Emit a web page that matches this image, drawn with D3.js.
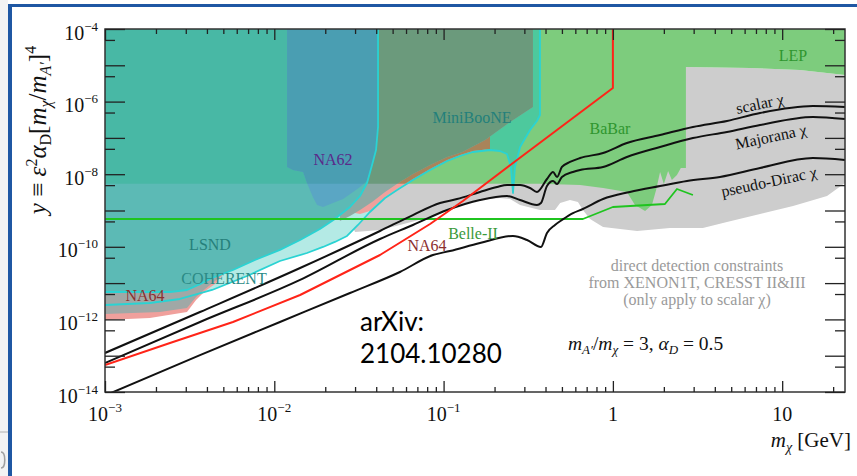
<!DOCTYPE html>
<html>
<head>
<meta charset="utf-8">
<script src="https://cdn.jsdelivr.net/npm/d3@7"></script>
<style>
html, body { margin: 0; padding: 0; background: #ffffff; }
svg { display: block; }
</style>
</head>
<body>
<svg id="chart" width="857" height="476"></svg>
<script>
// ---- thermal-relic targets, m_chi [GeV] vs y ----
const scalarChi = [[1.0e-3,1.19e-13],[3.64e-3,1.6e-12],[1.42e-2,2.6e-11],[4.21e-2,2.72e-10],[6.59e-2,7.5e-10],
  [9.53e-2,1.61e-9],[0.120,2.07e-9],[0.164,3.24e-9],[0.207,4.44e-9],[0.237,5.04e-9],[0.283,5.04e-9],[0.324,4.17e-9],
  [0.356,3.24e-9],[0.408,7.38e-9],[0.443,1.15e-8],[0.468,8.4e-9],[0.500,1.58e-8],[0.558,2.17e-8],[0.640,2.79e-8],
  [0.875,3.84e-8],[1.21,7.24e-8],[1.90,1.2e-7],[2.97,2.0e-7],[4.72,2.92e-7],[7.40,4.85e-7],[15.2,7.57e-7],[23.5,7.1e-7]];
const majoranaChi = [[1.0e-3,6.3e-14],[3.64e-3,8.5e-13],[1.42e-2,1.22e-11],[4.21e-2,1.64e-10],[6.59e-2,3.99e-10],
  [0.105,1.03e-9],[0.164,1.95e-9],[0.237,2.51e-9],[0.283,1.95e-9],[0.356,1.42e-9],[0.376,1.61e-9],[0.408,4.73e-9],
  [0.443,6.5e-9],[0.468,5.37e-9],[0.500,8.4e-9],[0.581,1.15e-8],[0.640,1.31e-8],[0.875,1.58e-8],[1.21,2.98e-8],
  [1.90,5.61e-8],[2.97,9.9e-8],[4.72,1.46e-7],[7.40,2.26e-7],[15.2,3.77e-7],[23.5,3.32e-7]];
const pseudoDiracChi = [[1.0e-3,8.0e-15],[3.64e-3,1.04e-13],[1.08e-2,8.5e-13],[2.80e-2,5.33e-12],[5.52e-2,2.02e-11],
  [8.65e-2,5.94e-11],[0.109,7.66e-11],[0.164,1.27e-10],[0.257,1.99e-10],[0.311,1.54e-10],[0.376,9.9e-11],[0.408,2.4e-10],
  [0.455,3.99e-10],[0.500,5.47e-10],[0.581,8.5e-10],[0.665,1.1e-9],[0.875,2.07e-9],[1.26,3.24e-9],[1.90,4.73e-9],
  [2.74,6.5e-9],[4.29,8.4e-9],[7.40,1.48e-8],[15.2,2.79e-8],[23.5,2.46e-8]];

// ---- projected sensitivities ----
const na64Projection = [[1.0e-3,5.55e-14],[2.42e-3,2.24e-13],[5.70e-3,8.5e-13],[1.42e-2,4.7e-12],[4.21e-2,5.94e-11],
  [8.32e-2,4.25e-10],[0.130,1.83e-9],[0.257,2.04e-8],[1.0,2.37e-6],[1.0,1e-4]];
const belle2Projection = [[1e-3,5.83e-10],[0.665,5.83e-10],[1.0,1.25e-9],[2.03,1.51e-9],[2.39,3.91e-9],[2.97,2.67e-9]];

// ---- existing constraints (region boundaries) ----
const lsndEdge = [[4.10e-2,1e-4],[4.10e-2,2.0e-7],[3.99e-2,4.64e-8],[3.78e-2,1.79e-8],[3.53e-2,5.73e-9],[3.21e-2,2.51e-9],
  [2.80e-2,1.25e-9],[2.28e-2,5.83e-10],[1.86e-2,3.09e-10],[1.42e-2,1.54e-10],[1.08e-2,8.2e-11],[7.69e-3,4.33e-11],
  [5.70e-3,2.3e-11],[4.29e-3,1.38e-11],[3.64e-3,9.4e-12],[3.05e-3,6.46e-12],[2.42e-3,5.69e-12],[1e-3,5.69e-12]];
const coherentEdge = [[0.371,1e-4],[0.371,4.28e-7],[0.356,2.92e-7],[0.324,1.65e-7],[0.283,5.61e-8],[0.264,1.58e-8],
  [0.257,3.03e-9],[0.250,1.58e-8],[0.237,3.6e-8],[0.215,4.36e-8],[0.188,4.64e-8],[0.149,4.09e-8],[0.125,3.17e-8],
  [0.105,2.31e-8],[8.32e-2,1.31e-8],[6.59e-2,6.9e-9],[5.31e-2,3.67e-9],[4.51e-2,2.21e-9],[3.67e-2,9.1e-10],
  [3.12e-2,3.99e-10],[2.69e-2,1.99e-10],[2.28e-2,1.36e-10],[1.94e-2,9.9e-11],[1.56e-2,6.75e-11],[1.08e-2,4.06e-11],
  [6.90e-3,1.57e-11],[4.29e-3,6.46e-12],[2.77e-3,3.65e-12],[1.84e-3,2.83e-12],[1e-3,2.49e-12]];
const na64Region = [[1e-3,9.6e-13],[1.84e-3,1.09e-12],[3.05e-3,1.6e-12],[3.45e-3,3.42e-12],[3.90e-3,6.05e-12],
  [4.47e-3,9.4e-12],[5.12e-3,2.02e-11],[7.18e-3,4.91e-11],[1.08e-2,1.05e-10],[1.86e-2,3.74e-10],[2.62e-2,9.7e-10],
  [3.21e-2,8.0e-10],[3.67e-2,9.7e-10],[4.51e-2,2.35e-9],[5.31e-2,3.91e-9],[6.59e-2,7.38e-9],[8.32e-2,1.39e-8],
  [0.105,2.46e-8],[0.125,3.38e-8],[0.149,4.36e-8],[0.188,4.94e-8],[0.188,3.1e-7],[1e-3,3.1e-7]];
const na64Core = [[1e-3,1.41e-12],[2.11e-3,1.6e-12],[3.05e-3,2.06e-12],[3.45e-3,4.14e-12],[3.90e-3,6.87e-12],
  [4.47e-3,1.14e-11],[5.12e-3,2.02e-11],[5.12e-3,1.95e-9],[1e-3,1.95e-9]];
const miniBooNERegion = [[2.44e-2,1e-4],[0.337,1e-4],[0.337,7.1e-7],[0.247,2.74e-7],[0.176,8.75e-8],[0.129,4.09e-8],
  [0.105,2.98e-8],[8.32e-2,1.79e-8],[6.59e-2,1.01e-8],[5.52e-2,6.1e-9],[4.51e-2,3.24e-9],[3.78e-2,1.71e-9],
  [3.21e-2,1.03e-9],[2.80e-2,7.05e-10],[2.44e-2,5.14e-10]];
const na62Region = [[1.19e-2,1e-4],[4.10e-2,1e-4],[4.10e-2,2.0e-7],[3.99e-2,4.64e-8],[3.78e-2,1.79e-8],[3.53e-2,6.5e-9],
  [3.21e-2,4.44e-9],[2.92e-2,3.24e-9],[2.55e-2,2.07e-9],[2.22e-2,1.61e-9],[1.94e-2,1.25e-9],[1.79e-2,1.42e-9],
  [1.69e-2,2.35e-9],[1.56e-2,5.73e-9],[1.48e-2,1.15e-8],[1.29e-2,1.31e-8],[1.19e-2,1.58e-8]];
const directDetection = [[2.44e-2,9.0e-6],[2.70,9.0e-6],[6.46,8.4e-6],[12.7,7.4e-6],[23.5,5.4e-6],[23.5,5.73e-9],
  [18.4,2.51e-9],[11.6,1.33e-9],[7.40,8.0e-10],[4.72,4.82e-10],[3.40,3.3e-10],[2.17,3.3e-10],[1.39,2.72e-10],
  [0.875,3.51e-10],[0.733,5.83e-10],[0.665,1.03e-9],[0.622,1.71e-9],[0.558,1.95e-9],[0.488,1.61e-9],[0.455,1.03e-9],
  [0.371,1.03e-9],[0.283,1.42e-9],[0.247,2.07e-9],[0.215,2.21e-9],[0.164,1.95e-9],[0.130,1.42e-9],[8.32e-2,6.6e-10],
  [5.52e-2,3.99e-10],[4.21e-2,2.9e-10],[3.00e-2,2.56e-10],[2.44e-2,1.95e-9]];
const babarLep = [[1e-3,1e-4],[23.5,1e-4],[23.5,5.4e-6],[12.7,7.4e-6],[6.46,8.4e-6],[2.70,9.0e-6],[2.70,1.48e-8],
  [2.52,1.48e-8],[2.39,9.5e-9],[2.23,6.9e-9],[2.12,1.23e-8],[2.00,5.37e-9],[1.90,1.15e-8],[1.80,3.67e-9],
  [1.70,1.42e-9],[1.55,9.7e-10],[1.35,1.42e-9],[1.21,3.24e-9],[0.875,4.17e-9],[0.640,5.04e-9],[0.371,5.5e-9],[1e-3,5.5e-9]];

// ---- axis ticks ----
const xMajorTicks = [1e-3, 1e-2, 1e-1, 1, 10];
const xTickBase = ["10", "10", "10", "1", "10"];
const xTickExp = ["−3", "−2", "−1", "", ""];
const yMajorTicks = [1e-4,1e-5,1e-6,1e-7,1e-8,1e-9,1e-10,1e-11,1e-12,1e-13,1e-14];
const yHalfTicks = [5e-5,5e-6,5e-7,5e-8,5e-9,5e-10,5e-11,5e-12,5e-13,5e-14];
const yLabelTicks = [1e-4, 1e-6, 1e-8, 1e-10, 1e-12, 1e-14];
const yTickExp = ["−4", "−6", "−8", "−10", "−12", "−14"];

const SERIF = "'Liberation Serif', 'DejaVu Serif', serif";
const SANS = "Lato, 'Open Sans', sans-serif";

const svg = d3.select("#chart");
const x = d3.scaleLog().domain([1e-3, 23.5]).range([105, 845]);
const y = d3.scaleLog().domain([1e-14, 1e-4]).range([392, 29]);
const line = d3.line().x(d => x(d[0])).y(d => y(d[1]));
const smooth = d3.line().x(d => x(d[0])).y(d => y(d[1])).curve(d3.curveMonotoneX);
const area = pts => line(pts) + "Z";

function label(parent, px, py, size) {
  return parent.append("text").attr("x", px).attr("y", py).style("font-family", SERIF).attr("font-size", size);
}

// slide frame
svg.append("rect").attr("x", 0).attr("y", 0).attr("width", 8).attr("height", 476).attr("fill", "#f3f3f3");
svg.append("line").attr("x1", 0).attr("x2", 8).attr("y1", 432).attr("y2", 432).attr("stroke", "#b0b0b0");
svg.append("path").attr("d", "M1,452 C6,452 6,468 1,468").attr("fill", "none").attr("stroke", "#a0a0a0").attr("stroke-width", 1.6);
svg.append("rect").attr("x", 8).attr("y", 4).attr("width", 849).attr("height", 3).attr("fill", "#1f57a3");
svg.append("rect").attr("x", 8).attr("y", 4).attr("width", 4).attr("height", 472).attr("fill", "#1f57a3");

const plotLeft = x(1e-3), plotRight = x(23.5), plotTop = y(1e-4), plotBottom = y(1e-14);

const defs = svg.append("defs");
defs.append("clipPath").attr("id", "plotClip").append("rect")
  .attr("x", plotLeft).attr("y", plotTop).attr("width", plotRight - plotLeft).attr("height", plotBottom - plotTop);
defs.append("clipPath").attr("id", "babarClip").append("path").attr("d", area(babarLep));

const plot = svg.append("g").attr("clip-path", "url(#plotClip)");
plot.append("path").attr("d", area(directDetection)).attr("fill", "#cdcdcd");
plot.append("path").attr("d", area(babarLep)).attr("fill", "#7dcc7d");

// each region shown with its own tint, darker where it overlaps BaBar/LEP
const regions = [
  { pts: [[1e-3, 1e-4]].concat(coherentEdge), below: "#b4eae5", above: "#4dc99d" },
  { pts: na64Region, below: "#f0a09c", above: "#a9845a" },
  { pts: na64Core, below: "#a0a8a6", above: "#a0a8a6" },
  { pts: miniBooNERegion, below: "#8eaaa4", above: "#6b9a7c" },
  { pts: [[1e-3, 1e-4]].concat(lsndEdge), below: "#5cbab5", above: "#48b8a5" },
  { pts: na62Region, below: "#5aa6c4", above: "#4a9eb2" }
];
regions.forEach(r => {
  plot.append("path").attr("d", area(r.pts)).attr("fill", r.below);
  plot.append("g").attr("clip-path", "url(#babarClip)")
    .append("path").attr("d", area(r.pts)).attr("fill", r.above);
});

const stroke = (d, color, w) => plot.append("path").attr("d", d).attr("fill", "none")
  .attr("stroke", color).attr("stroke-width", w).attr("stroke-linejoin", "round");
stroke(line(lsndEdge), "#2ad3d3", 1.8);
stroke(line(coherentEdge), "#2ad3d3", 1.8);
stroke(line(belle2Projection), "#1fc41f", 1.8);
stroke(smooth(scalarChi), "#111", 2);
stroke(smooth(majoranaChi), "#111", 2);
stroke(smooth(pseudoDiracChi), "#111", 2);
stroke(line(na64Projection), "#ff2418", 2);

// frame and ticks
svg.append("rect").attr("x", plotLeft).attr("y", plotTop).attr("width", plotRight - plotLeft)
  .attr("height", plotBottom - plotTop).attr("fill", "none").attr("stroke", "#333").attr("stroke-width", 1.5);

const xMinor = [];
[1e-3, 1e-2, 1e-1, 1, 10].forEach(b => d3.range(2, 10).forEach(k => { if (k * b < 23.5) xMinor.push(k * b); }));

function ticks(axis, tx, ty) {
  const g = svg.append("g").attr("transform", `translate(${tx},${ty})`).call(axis);
  g.select(".domain").remove();
  g.selectAll("line").attr("stroke", "#222").attr("stroke-width", 1.3);
  g.selectAll("text").remove();
}
ticks(d3.axisBottom(x).tickValues(xMajorTicks).tickSize(-11).tickFormat(""), 0, plotBottom);
ticks(d3.axisBottom(x).tickValues(xMinor).tickSize(-5).tickFormat(""), 0, plotBottom);
ticks(d3.axisTop(x).tickValues(xMajorTicks).tickSize(-11).tickFormat(""), 0, plotTop);
ticks(d3.axisTop(x).tickValues(xMinor).tickSize(-5).tickFormat(""), 0, plotTop);
ticks(d3.axisLeft(y).tickValues(yMajorTicks).tickSize(-20).tickFormat(""), plotLeft, 0);
ticks(d3.axisLeft(y).tickValues(yHalfTicks).tickSize(-10).tickFormat(""), plotLeft, 0);
ticks(d3.axisRight(y).tickValues(yMajorTicks).tickSize(-20).tickFormat(""), plotRight, 0);
ticks(d3.axisRight(y).tickValues(yHalfTicks).tickSize(-10).tickFormat(""), plotRight, 0);

// tick labels
yLabelTicks.forEach((v, i) => {
  const t = label(svg, 98, y(v) + 10.5, 20).attr("text-anchor", "end").attr("fill", "#111");
  t.append("tspan").text("10");
  t.append("tspan").attr("dy", -9).attr("font-size", 13).text(yTickExp[i]);
});
xMajorTicks.forEach((v, i) => {
  const t = label(svg, x(v), 421, 20).attr("text-anchor", "middle").attr("fill", "#111");
  t.append("tspan").text(xTickBase[i]);
  if (xTickExp[i]) t.append("tspan").attr("dy", -9).attr("font-size", 13).text(xTickExp[i]);
});

// axis titles
const xt = label(svg, 851, 447, 21).attr("text-anchor", "end").attr("fill", "#111");
xt.append("tspan").attr("font-style", "italic").text("m");
xt.append("tspan").attr("dy", 5).attr("font-size", 14).attr("font-style", "italic").text("χ");
xt.append("tspan").attr("dy", -5).text(" [GeV]");

const yt = svg.append("text").attr("transform", "translate(46,130) rotate(-90)").attr("text-anchor", "middle")
  .style("font-family", SERIF).attr("font-size", 25).attr("fill", "#111");
yt.append("tspan").attr("font-style", "italic").text("y");
yt.append("tspan").text(" ≡ ");
yt.append("tspan").attr("font-style", "italic").text("ε");
yt.append("tspan").attr("dy", -9).attr("font-size", 16).text("2");
yt.append("tspan").attr("dy", 9).attr("font-style", "italic").text("α");
yt.append("tspan").attr("dy", 5).attr("font-size", 16).text("D");
yt.append("tspan").attr("dy", -5).text("[");
yt.append("tspan").attr("font-style", "italic").text("m");
yt.append("tspan").attr("dy", 5).attr("font-size", 16).attr("font-style", "italic").text("χ");
yt.append("tspan").attr("dy", -5).text("/");
yt.append("tspan").attr("font-style", "italic").text("m");
yt.append("tspan").attr("dy", 5).attr("font-size", 16).attr("font-style", "italic").text("A′");
yt.append("tspan").attr("dy", -5).text("]");
yt.append("tspan").attr("dy", -10).attr("font-size", 16).text("4");

// region and curve labels
const labels = [
  { t: "LEP", x: 793, y: 61, c: "#2f962f" },
  { t: "BaBar", x: 610, y: 134, c: "#2f962f" },
  { t: "MiniBooNE", x: 472, y: 123, c: "#23807b" },
  { t: "NA62", x: 333, y: 165, c: "#5a2a8a" },
  { t: "LSND", x: 210, y: 250, c: "#26807b" },
  { t: "COHERENT", x: 224, y: 284, c: "#2b8a86" },
  { t: "NA64", x: 145, y: 301, c: "#8c2f2f" },
  { t: "NA64", x: 427, y: 251, c: "#8c2f2f" },
  { t: "Belle-II", x: 473, y: 239, c: "#3a9a3a" }
];
labels.forEach(l => label(svg, l.x, l.y, 16).attr("text-anchor", "middle").attr("fill", l.c).text(l.t));

const relicLabels = [
  { t: "scalar χ", x: 761, y: 109 },
  { t: "Majorana χ", x: 772, y: 142 },
  { t: "pseudo-Dirac χ", x: 770, y: 187 }
];
relicLabels.forEach(l => svg.append("text").attr("transform", `translate(${l.x},${l.y}) rotate(-12)`)
  .style("font-family", SERIF).attr("text-anchor", "middle").attr("font-size", 16).attr("fill", "#111").text(l.t));

const ddLines = ["direct detection constraints", "from XENON1T, CRESST II&III", "(only apply to scalar χ)"];
ddLines.forEach((s, i) => label(svg, 697, 271 + i * 17, 16).attr("text-anchor", "middle").attr("fill", "#9a9a9a").text(s));

const ratio = label(svg, 568, 350, 19.5).attr("fill", "#111");
ratio.append("tspan").attr("font-style", "italic").text("m");
ratio.append("tspan").attr("dy", 4).attr("font-size", 13).attr("font-style", "italic").text("A′");
ratio.append("tspan").attr("dy", -4).text("/");
ratio.append("tspan").attr("font-style", "italic").text("m");
ratio.append("tspan").attr("dy", 4).attr("font-size", 13).attr("font-style", "italic").text("χ");
ratio.append("tspan").attr("dy", -4).text(" = 3, ");
ratio.append("tspan").attr("font-style", "italic").text("α");
ratio.append("tspan").attr("dy", 4).attr("font-size", 13).attr("font-style", "italic").text("D");
ratio.append("tspan").attr("dy", -4).text(" = 0.5");

svg.append("text").attr("x", 360).attr("y", 331).style("font-family", SANS)
  .attr("font-size", 26).attr("fill", "#000").text("arXiv:");
svg.append("text").attr("x", 360).attr("y", 363).style("font-family", SANS)
  .attr("font-size", 26).attr("fill", "#000").text("2104.10280");
</script>
</body>
</html>
